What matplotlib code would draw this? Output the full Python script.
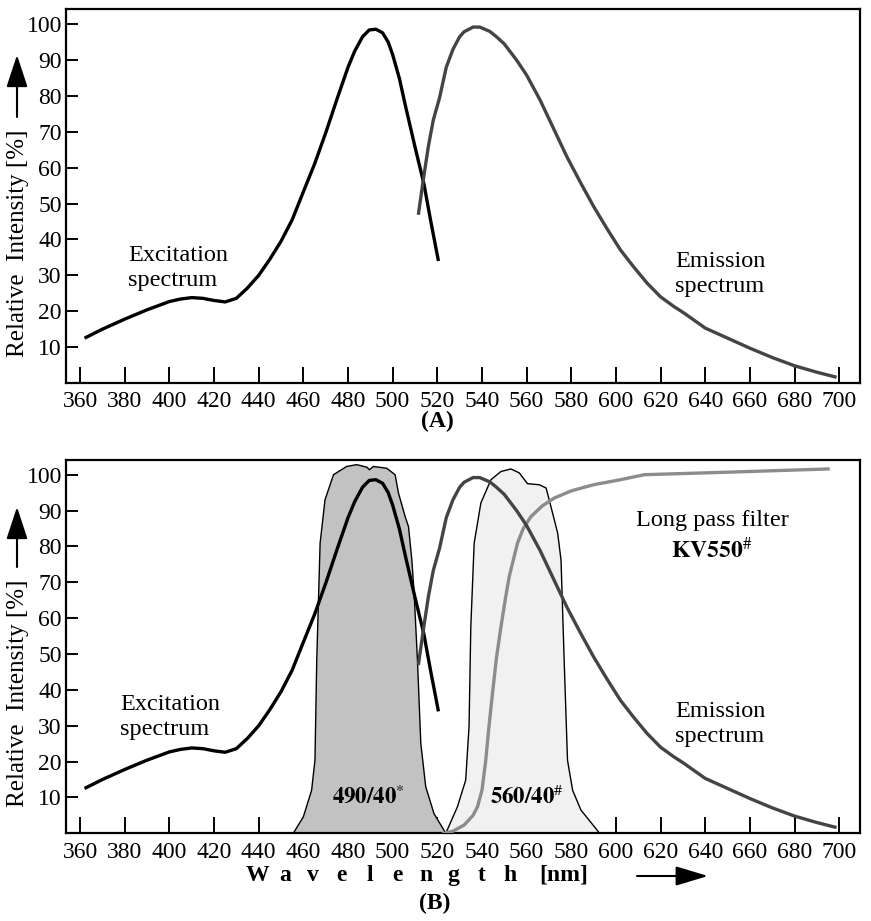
import numpy as np
import matplotlib
matplotlib.use("Agg")
from matplotlib import pyplot as plt

plt.rcParams['font.family'] = ['Liberation Serif', 'DejaVu Serif']
plt.rcParams['mathtext.fontset'] = 'stix'

# excitation spectrum (nm, %)
exc_nm = [362, 370, 380, 390, 400, 405, 410, 415, 420, 425, 430, 435, 440, 445, 450,
          455, 460, 465, 470, 475, 480, 483, 486.5, 489.5, 492.5, 495.5, 498, 500, 503,
          506, 510, 514, 517, 520.5]
exc_val = [12.5, 15.0, 17.8, 20.4, 22.7, 23.4, 23.8, 23.6, 23.0, 22.6, 23.6, 26.5, 30.0, 34.5, 39.5,
           45.5, 53.3, 61.0, 69.7, 79.0, 88.0, 92.5, 96.5, 98.4, 98.6, 97.6, 95.0, 91.5, 84.9,
           76.5, 65.8, 55.5, 45.3, 34.0]

# emission spectrum
emi_nm = [511.5, 513.7, 516, 518.2, 521, 524, 527, 530, 532, 536, 539, 543.5, 546.5, 550,
          555.5, 560, 566, 572, 578, 584, 590, 596, 602, 608, 614, 620, 626, 630, 640, 650,
          660, 670, 680, 690, 698.8]
emi_val = [46.9, 56.6, 66.0, 73.3, 79.5, 88.0, 93.0, 96.5, 97.9, 99.2, 99.2, 98.0, 96.5, 94.5,
           90.0, 85.8, 78.9, 71.0, 63.1, 56.0, 49.2, 43.0, 37.1, 32.3, 27.8, 24.0, 21.3, 19.7, 15.3,
           12.5, 9.7, 7.1, 4.8, 3.0, 1.6]

# band pass filter 490/40
bp490_nm = [455.5, 460, 463.7, 465.2, 466, 467.5, 469.7, 473.5, 479.4, 483.9, 488.4, 489.6,
            491.4, 497.3, 501.1, 502.6, 505.6, 507.1, 508.6, 509.6, 511.1, 512.6, 514.8,
            518.5, 523.8]
bp490_val = [0, 4.6, 12.0, 20.4, 48.3, 80.9, 93.0, 100.0, 102.3, 102.8, 102.1, 101.4,
             102.3, 101.8, 100.0, 94.9, 88.3, 85.5, 76.2, 67.0, 48.3, 25.1, 13.0,
             5.5, 0]

# band pass filter 560/40
bp560_nm = [523.8, 529, 532.7, 534.2, 535, 536.5, 539.5, 544, 548.5, 553, 556.7, 560.4,
            565.7, 568.7, 570.1, 572.4, 573.9, 575.4, 576.8, 578.3, 580.6, 584.3, 592.7]
bp560_val = [0, 7.4, 14.8, 29.7, 57.6, 80.9, 92.1, 98.6, 100.9, 101.6, 100.5, 97.5,
             97.2, 96.3, 93.0, 87.4, 83.7, 76.2, 48.3, 20.4, 12.0, 6.5, 0]

# long pass filter KV550
lp_nm = [523, 527, 532, 536, 538, 540, 541.7, 543, 544.7, 546.5, 548.5, 550.5, 552.2,
         555.9, 558.5, 561.9, 567, 572.4, 580, 590, 602, 612.7, 650, 695]
lp_val = [0, 0.6, 2.3, 5.0, 7.4, 12.0, 20.4, 29.0, 39.0, 49.0, 57.6, 65.5, 71.6,
          80.9, 85.0, 88.3, 91.3, 93.5, 95.5, 97.2, 98.6, 100.0, 100.7, 101.6]

xticks = list(range(360, 701, 20))
yticks = list(range(10, 101, 10))

W, H = 871, 921
fig = plt.figure(figsize=(W / 100, H / 100), dpi=100)


def px(x, y):
    return (x / W, 1 - y / H)


def setup(ax):
    ax.set_xlim(353.7, 709.3)
    ax.set_ylim(0, 104.1)
    ax.set_xticks(xticks)
    ax.set_yticks(yticks)
    ax.tick_params(axis='x', direction='in', length=11.5, width=1.4, labelsize=17, pad=6)
    ax.tick_params(axis='y', direction='in', length=8.5, width=1.4, labelsize=17, pad=3)
    for s in ax.spines.values():
        s.set_linewidth(1.6)


axA = fig.add_axes([66 / W, 1 - 383 / H, 794 / W, 373.5 / H])
axB = fig.add_axes([66 / W, 1 - 833.3 / H, 794 / W, 373.3 / H])

for ax in (axA, axB):
    setup(ax)
    ax.plot(exc_nm, exc_val, color='black', lw=2.4, zorder=4, solid_capstyle='butt')
    ax.plot(emi_nm, emi_val, color='#444444', lw=2.4, zorder=4, solid_capstyle='butt')

axB.fill(bp490_nm, bp490_val, facecolor='#c2c2c2', edgecolor='black', lw=1.0, zorder=2)
axB.fill(bp560_nm, bp560_val, facecolor='#f1f1f1', edgecolor='black', lw=1.0, zorder=2)
axB.plot(lp_nm, lp_val, color='#8c8c8c', lw=2.4, zorder=3)

tkw = dict(fontsize=17.5, linespacing=1.2, va='center', ha='left', multialignment='left')
fig.text(*px(128, 268), 'Excitation\nspectrum', **tkw)
fig.text(*px(675, 274), 'Emission\nspectrum', **tkw)
fig.text(*px(120, 717), 'Excitation\nspectrum', **tkw)
fig.text(*px(675, 724), 'Emission\nspectrum', **tkw)

fig.text(*px(712, 520), 'Long pass filter', fontsize=17.5, ha='center', va='center')
fig.text(*px(712, 550), r'$\mathbf{KV550}^{\#}$', fontsize=17, ha='center', va='center')
fig.text(*px(368, 797), r'$\mathbf{490/40}^{*}$', fontsize=16.5, ha='center', va='center')
fig.text(*px(527, 797), r'$\mathbf{560/40}^{\#}$', fontsize=16.5, ha='center', va='center')

# y labels with arrows
for (yc, y_tail, y_tip) in [(243, 117, 55), (693, 567, 507)]:
    fig.text(*px(18, yc), 'Relative  Intensity [%]', rotation=90, fontsize=18,
             ha='center', va='center')
    fig.add_artist(plt.Annotation('', xy=px(17, y_tip), xytext=px(17, y_tail),
                                  xycoords='figure fraction', textcoords='figure fraction',
                                  arrowprops=dict(arrowstyle='-|>,head_length=1.0,head_width=0.33',
                                                  lw=1.5, color='black', mutation_scale=20,
                                                  shrinkA=0, shrinkB=0)))

fig.text(*px(437, 421), '(A)', fontsize=17, fontweight='bold', ha='center', va='center')
fig.text(*px(435, 903), '(B)', fontsize=17, fontweight='bold', ha='center', va='center')

# spaced axis title
letters = list('Wavelength')
x0 = 257
for i, ch in enumerate(letters):
    fig.text(*px(x0 + i * 28.1, 875), ch, fontsize=17, fontweight='bold', ha='center', va='center')
fig.text(*px(539, 875), '[nm]', fontsize=17, fontweight='bold', ha='left', va='center')
fig.add_artist(plt.Annotation('', xy=px(708, 876), xytext=px(637, 876),
                              xycoords='figure fraction', textcoords='figure fraction',
                              arrowprops=dict(arrowstyle='-|>,head_length=1.0,head_width=0.3',
                                              lw=1.5, color='black', mutation_scale=20,
                                              shrinkA=0, shrinkB=0)))

fig.savefig('out.png', dpi=100)
